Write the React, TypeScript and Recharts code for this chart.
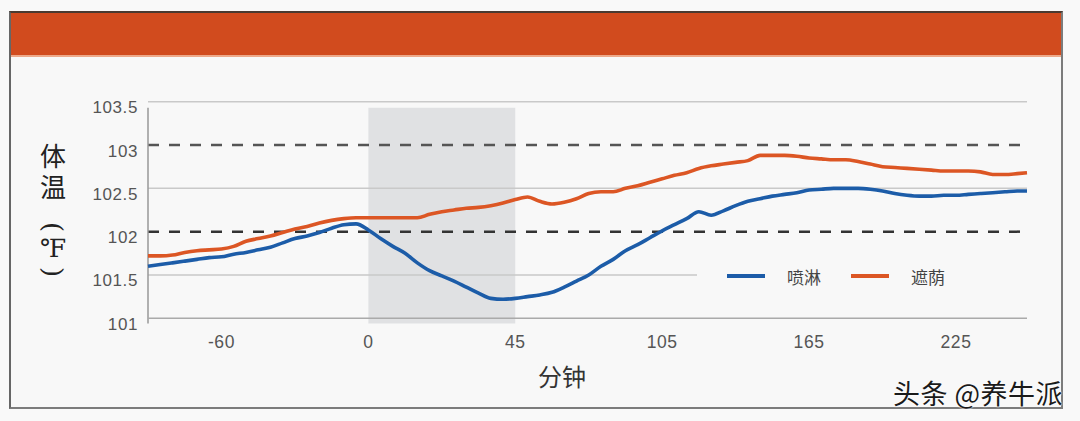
import React from "react";
import {
  LineChart,
  Line,
  XAxis,
  YAxis,
  ReferenceArea,
  ReferenceLine,
  Legend,
} from "recharts";

// x positions on an evenly spaced tick grid (the source axis spaces its labels evenly)
const xPositions = [
  -90, -85, -80, -75, -70, -65, -60, -55, -50, -45, -40, -35, -30, -25, -20, -15, -10, -5,
  0, 5, 10, 15, 20, 25, 30, 35, 40, 45, 50, 55, 60, 65, 70, 75, 80, 85, 90, 95, 100, 105,
  110, 115, 120, 125, 130, 135, 140, 145, 150, 155, 160, 165, 170, 175, 180, 185, 190, 195,
  200, 205, 210, 215, 220, 225, 230, 235, 240, 245, 250, 255, 260, 265, 269,
];

// 喷淋 (spray)
const sprayTemps = [
  101.6, 101.62, 101.64, 101.66, 101.68, 101.7, 101.71, 101.74, 101.76, 101.79, 101.82, 101.87,
  101.92, 101.95, 101.99, 102.04, 102.08, 102.09, 102.02, 101.92, 101.83, 101.75, 101.64, 101.55,
  101.49, 101.43, 101.36, 101.29, 101.23, 101.22, 101.23, 101.25, 101.27, 101.3, 101.36, 101.43,
  101.5, 101.6, 101.68, 101.78, 101.85, 101.93, 102.01, 102.08, 102.15, 102.23, 102.19, 102.24,
  102.3, 102.35, 102.38, 102.41, 102.43, 102.45, 102.48, 102.49, 102.5, 102.5, 102.5, 102.49,
  102.47, 102.44, 102.42, 102.41, 102.41, 102.42, 102.42, 102.43, 102.44, 102.45, 102.46,
  102.47, 102.47,
];

// 遮荫 (shade)
const shadeTemps = [
  101.72, 101.72, 101.73, 101.76, 101.78, 101.79, 101.8, 101.83, 101.89, 101.92, 101.95, 101.99,
  102.03, 102.06, 102.1, 102.13, 102.15, 102.16, 102.16, 102.16, 102.16, 102.16, 102.16, 102.2,
  102.23, 102.25, 102.27, 102.28, 102.3, 102.33, 102.37, 102.4, 102.35, 102.32, 102.34, 102.38,
  102.44, 102.46, 102.46, 102.5, 102.53, 102.57, 102.61, 102.65, 102.68, 102.73, 102.76, 102.78,
  102.8, 102.82, 102.88, 102.88, 102.88, 102.87, 102.85, 102.84, 102.83, 102.83, 102.81, 102.78,
  102.75, 102.74, 102.73, 102.72, 102.71, 102.7, 102.7, 102.7, 102.69, 102.66, 102.66, 102.67,
  102.68,
];

const seriesNames = ["喷淋", "遮荫"];
const xTickPositions = [-60, 0, 60, 120, 180, 240];
const xTickLabels = ["-60", "0", "45", "105", "165", "225"];
const yTicks = [101, 101.5, 102, 102.5, 103, 103.5];
const solidGridLevels = [101.5, 102.5, 103.5];
const dashedLevels = [102, 103];
const treatmentWindow = [0, 60]; // 0–45 min on the axis

const data = xPositions.map((x, i) => ({
  x,
  spray: sprayTemps[i],
  shade: shadeTemps[i],
}));

const BLUE = "#1c5ca8";
const ORANGE = "#dc5624";
const TICK_COLOR = "#555";
const TICK_FONT = "'Liberation Sans', Arial, sans-serif";

const YTick = (props: any) => {
  const { x, y, payload } = props;
  return (
    <text
      x={x}
      y={y + 6}
      textAnchor="end"
      dominantBaseline="central"
      fill={TICK_COLOR}
      fontSize={17}
      fontFamily={TICK_FONT}
      letterSpacing={0.6}
    >
      {String(payload.value)}
    </text>
  );
};

const XTick = (props: any) => {
  const { x, y, payload } = props;
  const idx = xTickPositions.indexOf(payload.value);
  return (
    <text
      x={x}
      y={y}
      dy="0.71em"
      textAnchor="middle"
      fill={TICK_COLOR}
      fontSize={17.5}
      fontFamily={TICK_FONT}
      letterSpacing={0.6}
    >
      {idx >= 0 ? xTickLabels[idx] : ""}
    </text>
  );
};

const LegendContent = () => {
  const colors = [BLUE, ORANGE];
  return (
    <div
      style={{
        display: "flex",
        alignItems: "center",
        height: "100%",
        background: "#f8f8f8",
        fontFamily: "'Noto Sans CJK SC', sans-serif",
        fontSize: 17,
        color: "#444",
      }}
    >
      {seriesNames.map((name, i) => (
        <div key={name} style={{ display: "flex", alignItems: "center", marginLeft: 30 }}>
          <div style={{ width: 38, height: 4, background: colors[i] }} />
          <span style={{ marginLeft: 22 }}>{name}</span>
        </div>
      ))}
    </div>
  );
};

// vertical y-axis title 体温（℉）drawn as an SVG column
const YTitle = () => (
  <svg
    width={60}
    height={160}
    style={{ position: "absolute", left: 23, top: 130 }}
    fontFamily="'Noto Sans CJK SC', serif"
    fill="#222"
  >
    <text
      x={30}
      y={13}
      fontSize={26}
      style={{ writingMode: "vertical-rl" }}
      letterSpacing={5}
    >
      体温
    </text>
    <text
      x={30}
      y={97}
      textAnchor="middle"
      dominantBaseline="central"
      fontSize={26}
      fontFamily="'DejaVu Serif', serif"
      fontWeight={200}
      transform="rotate(90 30 97)"
    >
      (
    </text>
    <text
      x={30}
      y={118}
      textAnchor="middle"
      dominantBaseline="central"
      fontSize={25}
      fontFamily="'DejaVu Serif', serif"
    >
      ℉
    </text>
    <text
      x={30}
      y={142}
      textAnchor="middle"
      dominantBaseline="central"
      fontSize={26}
      fontFamily="'DejaVu Serif', serif"
      fontWeight={200}
      transform="rotate(90 30 142)"
    >
      )
    </text>
  </svg>
);

export default function App() {
  return (
    <div
      style={{
        position: "absolute",
        left: 0,
        top: 0,
        width: 1080,
        height: 421,
        background: "#f9f9f9",
        overflow: "hidden",
      }}
    >
      {/* frame */}
      <div
        style={{
          position: "absolute",
          left: 9,
          top: 11,
          width: 1050,
          height: 394,
          border: "2px solid #7c7c7c",
          borderTop: "2px solid #4a3a30",
          borderLeft: "2px solid #666",
          background: "#f8f8f8",
        }}
      />
      {/* header band */}
      <div
        style={{
          position: "absolute",
          left: 11,
          top: 13,
          width: 1050,
          height: 42,
          background: "#d14b1e",
          borderBottom: "2px solid #eda98a",
        }}
      />
      <div style={{ position: "absolute", left: 0, top: 0 }}>
        <LineChart
          width={1080}
          height={421}
          data={data}
          margin={{ top: 101.7, right: 53, bottom: 72.7, left: 88 }}
        >
          <ReferenceArea
            x1={treatmentWindow[0]}
            x2={treatmentWindow[1]}
            y1={103.43}
            y2={100.94}
            fill="#e0e1e3"
            fillOpacity={1}
            stroke="none"
            ifOverflow="visible"
          />
          {solidGridLevels.map((v) => (
            <ReferenceLine key={"g" + v} y={v} stroke="#c9c9c9" strokeWidth={1.5} />
          ))}
          {dashedLevels.map((v) => (
            <ReferenceLine
              key={"d" + v}
              y={v}
              stroke={v === 102 ? "#333" : "#555"}
              strokeWidth={2.5}
              strokeDasharray="11 10"
            />
          ))}
          <ReferenceLine
            segment={[
              { x: -90, y: 103.43 },
              { x: -90, y: 100.94 },
            ]}
            stroke="#999"
            strokeWidth={1.5}
            ifOverflow="visible"
          />
          <XAxis
            dataKey="x"
            type="number"
            domain={[-90, 269]}
            ticks={xTickPositions}
            height={30}
            axisLine={{ stroke: "#aaa", strokeWidth: 1.5 }}
            tickLine={false}
            tickMargin={11}
            tick={<XTick />}
            interval={0}
          />
          <YAxis
            type="number"
            domain={[101, 103.5]}
            ticks={yTicks}
            width={60}
            axisLine={false}
            tickLine={false}
            tickMargin={4}
            tick={<YTick />}
            interval={0}
          />
          <Line
            type="monotone"
            dataKey="spray"
            name={seriesNames[0]}
            stroke={BLUE}
            strokeWidth={3.6}
            dot={false}
            isAnimationActive={false}
          />
          <Line
            type="monotone"
            dataKey="shade"
            name={seriesNames[1]}
            stroke={ORANGE}
            strokeWidth={3.6}
            dot={false}
            isAnimationActive={false}
          />
          <Legend
            layout="horizontal"
            verticalAlign="middle"
            align="center"
            content={<LegendContent />}
            wrapperStyle={{
              position: "absolute",
              left: 697,
              top: 263,
              width: 340,
              height: 26,
              margin: 0,
            }}
          />
        </LineChart>
      </div>
      <YTitle />
      {/* x-axis title */}
      <div
        style={{
          position: "absolute",
          left: 538,
          top: 361,
          fontSize: 24,
          lineHeight: "30px",
          fontFamily: "'Noto Sans CJK SC', sans-serif",
          color: "#333",
        }}
      >
        分钟
      </div>
      {/* watermark */}
      <div
        style={{
          position: "absolute",
          left: 893,
          top: 376,
          fontSize: 27,
          lineHeight: "34px",
          letterSpacing: 0.5,
          fontFamily: "'Noto Sans CJK SC', sans-serif",
          color: "#1a1a1a",
          whiteSpace: "nowrap",
          textShadow: "0 0 2px #fff, 0 0 2px #fff",
        }}
      >
        头条 @养牛派
      </div>
    </div>
  );
}
